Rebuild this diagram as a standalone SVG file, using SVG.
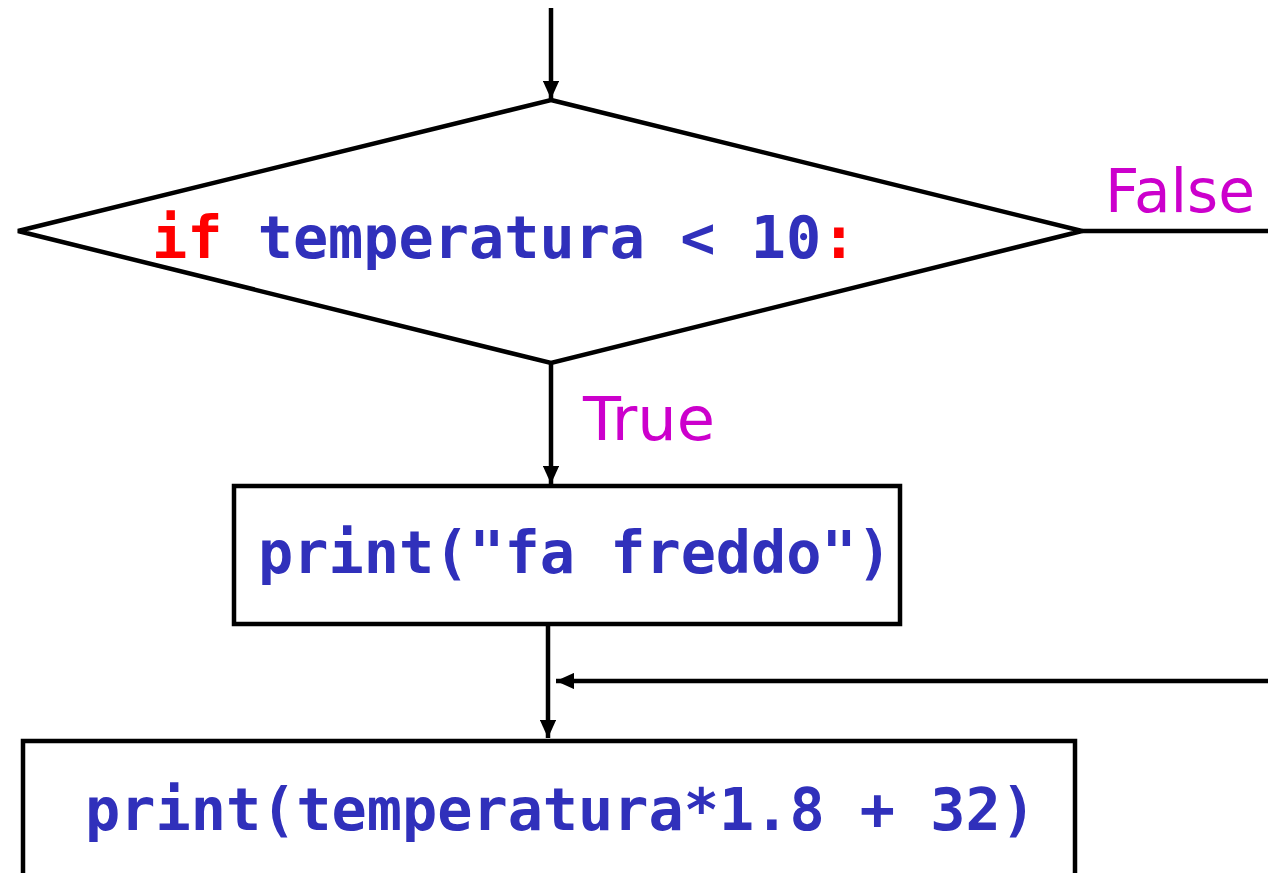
<svg xmlns="http://www.w3.org/2000/svg" width="1268" height="873" viewBox="0 0 1268 873">
<style>
.ln{stroke:#000;stroke-width:4.5;fill:none}
.shape{stroke:#000;stroke-width:4.5;fill:#fff}
.code{font-family:"DejaVu Sans Mono","Liberation Mono",monospace;font-weight:bold;font-size:58.5px;fill:#3030bb}
.kw{fill:#ff0000}
.lbl{font-family:"DejaVu Sans","Noto Sans",sans-serif;font-size:60px;fill:#cc00cc}
</style>
<defs>
<marker id="ah" viewBox="0 0 10 10" refX="10" refY="5" markerWidth="4" markerHeight="3.6" markerUnits="strokeWidth" orient="auto" preserveAspectRatio="none">
<path d="M0,0 L10,5 L0,10 Z" fill="#000"/>
</marker>
</defs>
<rect width="1268" height="873" fill="#fff"/>
<g id="connectors">
<line class="ln" x1="551" y1="8" x2="551" y2="99" marker-end="url(#ah)"/>
<line class="ln" x1="551" y1="363" x2="551" y2="484" marker-end="url(#ah)"/>
<line class="ln" x1="1082" y1="231" x2="1268" y2="231"/>
<line class="ln" x1="548" y1="624" x2="548" y2="738" marker-end="url(#ah)"/>
<line class="ln" x1="1268" y1="681" x2="556" y2="681" marker-end="url(#ah)"/>
</g>
<g id="decision">
<polygon class="shape" points="551,100 1082,231 551,363 18,231"/>
<text class="code" x="152" y="258"><tspan class="kw">if</tspan> temperatura &lt; 10<tspan class="kw">:</tspan></text>
</g>
<g id="label-false"><text class="lbl" x="1105" y="212" textLength="150" lengthAdjust="spacingAndGlyphs">False</text></g>
<g id="label-true"><text class="lbl" x="583" y="440" textLength="132" lengthAdjust="spacingAndGlyphs">True</text></g>
<g id="print1">
<rect class="shape" x="234" y="486" width="666" height="138"/>
<text class="code" x="258" y="573">print("fa freddo")</text>
</g>
<g id="print2">
<rect class="shape" x="23" y="741" width="1052" height="140"/>
<text class="code" x="85" y="830">print(temperatura*1.8 + 32)</text>
</g>
</svg>
